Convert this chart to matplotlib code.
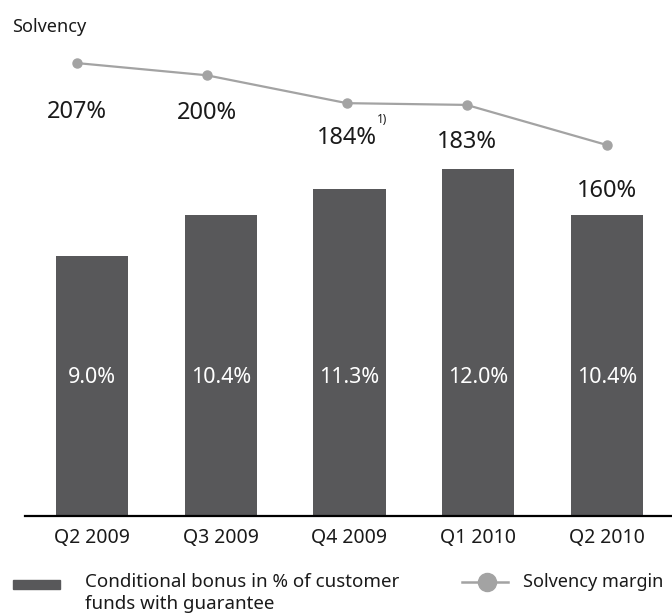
import matplotlib.pyplot as plt
from matplotlib.lines import Line2D
from matplotlib.patches import Rectangle

# data
quarters   = ['Q2 2009', 'Q3 2009', 'Q4 2009', 'Q1 2010', 'Q2 2010']
bonus_pct  = [9.0, 10.4, 11.3, 12.0, 10.4]
solvency   = [207, 200, 184, 183, 160]
footnotes  = ['', '', '1)', '', '']

# layout tweaks (the source draws the line a little left of the bar centres)
line_shift   = [-0.12, -0.11, -0.02, -0.09, 0.0]
label_offset = [-35, -27, -25, -27, -33]

BAR_COLOR  = '#58585a'
LINE_COLOR = '#a3a3a3'
TEXT_COLOR = '#1a1a1a'

plt.rcParams['font.family'] = ['Noto Sans', 'DejaVu Sans']
plt.rcParams['text.color'] = TEXT_COLOR

fig = plt.figure(figsize=(6.72, 6.13), dpi=100)
ax = fig.add_axes([25 / 672, 97 / 613, 647 / 672, 476 / 613])

x = list(range(len(quarters)))
ax.bar(x, bonus_pct, width=0.56, color=BAR_COLOR, zorder=2)

# bar labels inside the bars
for xi, v in zip(x, bonus_pct):
    ax.text(xi, 4.78, f'{v:.1f}%', ha='center', va='center', color='white', fontsize=15.5)

ax.set_xlim(-0.52, 4.505)
ax.set_ylim(0, 16.47)
ax.set_xticks(x)
ax.set_xticklabels(quarters, fontsize=14, color=TEXT_COLOR)
ax.tick_params(axis='x', length=0, pad=9)
ax.set_yticks([])
for side in ['top', 'left', 'right']:
    ax.spines[side].set_visible(False)
ax.spines['bottom'].set_linewidth(1.6)
ax.spines['bottom'].set_color('black')

# solvency line on its own scale
ax2 = ax.twinx()
ax2.set_ylim(-52.6, 220.2)
lx = [xi + s for xi, s in zip(x, line_shift)]
ax2.plot(lx, solvency, color=LINE_COLOR, linewidth=1.6, marker='o', markersize=6.5, zorder=3)
ax2.set_yticks([])
for side in ['top', 'left', 'right', 'bottom']:
    ax2.spines[side].set_visible(False)

for xi, v, note, off in zip(lx, solvency, footnotes, label_offset):
    ax2.annotate(f'{v}%', (xi, v), xytext=(0, off), textcoords='offset points',
                 ha='center', va='center', fontsize=17)
    if note:
        ax2.annotate(note, (xi, v), xytext=(25, -12), textcoords='offset points',
                     ha='center', va='center', fontsize=8.5)

fig.text(12 / 672, 1 - 27 / 613, 'Solvency', fontsize=13, va='center', ha='left')

# legend drawn by hand to keep the handle on the first text line
fig.patches.append(Rectangle((13 / 672, 1 - 589 / 613), 47 / 672, 9 / 613,
                             transform=fig.transFigure, color=BAR_COLOR))
fig.text(85 / 672, 1 - 582 / 613, 'Conditional bonus in % of customer',
         fontsize=13.5, va='center', ha='left')
fig.text(85 / 672, 1 - 604 / 613, 'funds with guarantee',
         fontsize=13.5, va='center', ha='left')
fig.lines.append(Line2D([462 / 672, 508 / 672], [1 - 582 / 613, 1 - 582 / 613],
                        transform=fig.transFigure, color=LINE_COLOR, linewidth=1.8))
fig.lines.append(Line2D([487 / 672], [1 - 582 / 613], transform=fig.transFigure,
                        color=LINE_COLOR, marker='o', markersize=13))
fig.text(523 / 672, 1 - 582 / 613, 'Solvency margin', fontsize=13, va='center', ha='left')

fig.savefig('out.png', dpi=100)
